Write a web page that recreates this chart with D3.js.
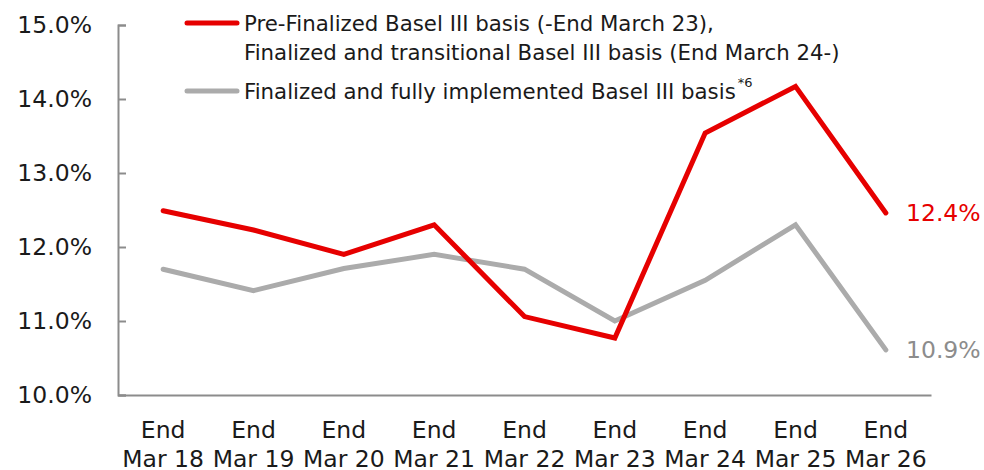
<!DOCTYPE html>
<html>
<head>
<meta charset="utf-8">
<script src="https://cdn.jsdelivr.net/npm/d3@7"></script>
<style>
  html, body { margin: 0; padding: 0; background: #fff; }
  svg { display: block; }
</style>
</head>
<body>
<div id="chart"></div>
<script>
// chart values
const categories = ["Mar 18", "Mar 19", "Mar 20", "Mar 21", "Mar 22", "Mar 23", "Mar 24", "Mar 25", "Mar 26"];
const transitional = [12.49, 12.23, 11.9, 12.3, 11.06, 10.77, 13.54, 14.17, 12.46];
const fullyImpl    = [11.7, 11.41, 11.71, 11.9, 11.7, 11.0, 11.55, 12.3, 10.61];
const yTicks = [10, 11, 12, 13, 14, 15];
const endLabels = ["12.4%", "10.9%"];
const legendLines = [
    ["Pre-Finalized Basel III basis (-End March 23),", "Finalized and transitional Basel III basis (End March 24-)"],
    ["Finalized and fully implemented Basel III basis"]
];

const width  = 984;
const height = 470;
const red  = "#e60000";
const grey = "#ababab";
const axisFont = "'DejaVu Sans', Verdana, sans-serif";
const axisSize = 23.5;
const legendFont = "'DejaVu Sans', Tahoma, sans-serif";
const legendSize = 21.3;

const svg = d3.select("#chart")
              .append("svg")
              .attr("width", width)
              .attr("height", height);

const x = d3.scaleBand()
            .domain(categories)
            .range([118, 931]);

const y = d3.scaleLinear()
            .domain([10, 15])
            .range([395, 25]);

const cx = d => x(d) + x.bandwidth() / 2;

// y axis
const yAxis = svg.append("g")
                 .attr("transform", "translate(118,0)")
                 .call(d3.axisRight(y).tickValues(yTicks).tickSize(8).tickFormat(""));
yAxis.select(".domain").attr("stroke", "#8c8c8c").attr("stroke-width", 2);
yAxis.selectAll(".tick line").attr("stroke", "#8c8c8c").attr("stroke-width", 2);

svg.append("g")
   .selectAll("text")
   .data(yTicks)
   .join("text")
   .attr("x", 92)
   .attr("y", d => y(d))
   .attr("dy", "0.36em")
   .attr("text-anchor", "end")
   .attr("font-family", axisFont)
   .attr("font-size", axisSize)
   .attr("fill", "#1a1a1a")
   .text(d => d.toFixed(1) + "%");

// x axis
const xAxis = svg.append("g")
                 .attr("transform", "translate(0,395)")
                 .call(d3.axisBottom(x).tickSize(0).tickFormat(""));
xAxis.select(".domain").attr("stroke", "#8c8c8c").attr("stroke-width", 2);

const xLab = svg.append("g")
                .selectAll("text")
                .data(categories)
                .join("text")
                .attr("text-anchor", "middle")
                .attr("font-family", axisFont)
                .attr("font-size", axisSize)
                .attr("fill", "#1a1a1a");
xLab.append("tspan").attr("x", cx).attr("y", 438).text("End");
xLab.append("tspan").attr("x", cx).attr("y", 467).text(d => d);

// lines
const line = d3.line()
               .x((d, i) => cx(categories[i]))
               .y(d => y(d));

[[fullyImpl, grey], [transitional, red]].forEach(([vals, col]) =>
{
    svg.append("path")
       .datum(vals)
       .attr("fill", "none")
       .attr("stroke", col)
       .attr("stroke-width", 5)
       .attr("stroke-linecap", "round")
       .attr("stroke-linejoin", "miter")
       .attr("d", line);
});

// end labels
const last = categories.length - 1;
svg.append("text")
   .attr("x", 906)
   .attr("y", y(transitional[last]))
   .attr("dy", "0.36em")
   .attr("font-family", axisFont)
   .attr("font-size", axisSize)
   .attr("fill", red)
   .text(endLabels[0]);

svg.append("text")
   .attr("x", 906)
   .attr("y", y(fullyImpl[last]))
   .attr("dy", "0.36em")
   .attr("font-family", axisFont)
   .attr("font-size", axisSize)
   .attr("fill", "#8c8c8c")
   .text(endLabels[1]);

// legend
const legend = svg.append("g");
legend.append("line")
      .attr("x1", 187).attr("x2", 237)
      .attr("y1", 23).attr("y2", 23)
      .attr("stroke", red).attr("stroke-width", 5).attr("stroke-linecap", "round");
legend.append("line")
      .attr("x1", 187).attr("x2", 237)
      .attr("y1", 91).attr("y2", 91)
      .attr("stroke", grey).attr("stroke-width", 5).attr("stroke-linecap", "round");

const l1 = legend.append("text")
                 .attr("font-family", legendFont)
                 .attr("font-size", legendSize)
                 .attr("fill", "#1a1a1a");
l1.append("tspan").attr("x", 244).attr("y", 31).text(legendLines[0][0]);
l1.append("tspan").attr("x", 244).attr("y", 60).text(legendLines[0][1]);

const l2 = legend.append("text")
                 .attr("x", 244)
                 .attr("y", 99)
                 .attr("font-family", legendFont)
                 .attr("font-size", legendSize)
                 .attr("fill", "#1a1a1a");
l2.append("tspan").text(legendLines[1][0]);
l2.append("tspan")
  .attr("dx", 2)
  .attr("dy", -12)
  .attr("font-size", 13)
  .text("*6");
</script>
</body>
</html>
